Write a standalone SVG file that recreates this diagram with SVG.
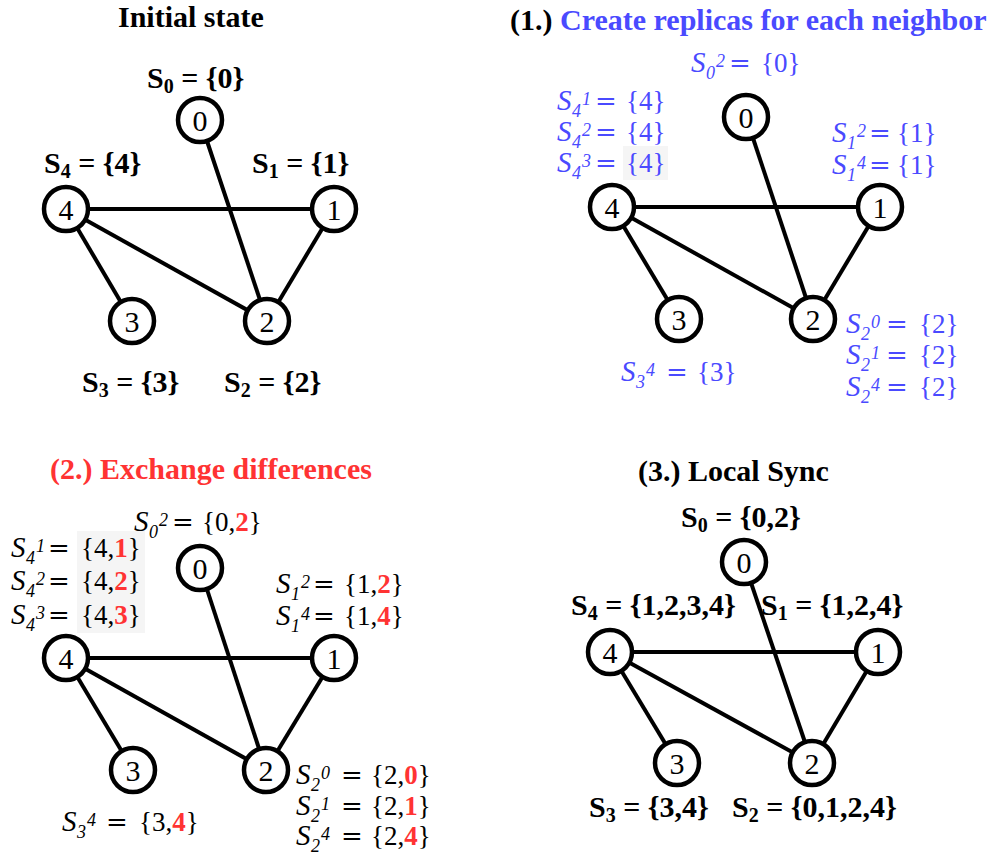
<svg xmlns="http://www.w3.org/2000/svg" width="993" height="855" viewBox="0 0 993 855">
<style>
.t{font-family:"Liberation Serif","Times New Roman",serif;}
.title{font-size:30px;font-weight:bold;}
.lb{font-size:30px;font-weight:bold;}
.sb{font-size:20px;}
.eq{font-family:"DejaVu Serif",serif;font-size:26px;}
.li{font-size:27px;}
.it{font-style:italic;}
.S{font-size:29px;}
.sm{font-size:18px;}
.r{fill:#ff3333;font-weight:bold;}
.blue{fill:#4a4aff;}
.node circle{fill:#fff;stroke:#000;stroke-width:4.5;}
.node text{font-family:"Liberation Serif","Times New Roman",serif;font-size:30px;text-anchor:middle;}
.edges line{stroke:#000;stroke-width:4;}
.hl{fill:#f5f5f5;}
</style>
<rect width="993" height="855" fill="#fff"/>

<!-- Titles -->
<text class="t title" x="118" y="27">Initial state</text>
<text class="t title" x="510" y="30">(1.) <tspan class="blue">Create replicas for each neighbor</tspan></text>
<text class="t title" x="50" y="479" fill="#ff3333">(2.) Exchange differences</text>
<text class="t title" x="638" y="481">(3.) Local Sync</text>

<!-- Panel 1: Initial state -->
<g id="edges-p0" class="edges">
<line x1="200" y1="120" x2="267" y2="321"/>
<line x1="66" y1="209" x2="334" y2="209"/>
<line x1="66" y1="209" x2="267" y2="321"/>
<line x1="66" y1="209" x2="132" y2="321"/>
<line x1="334" y1="209" x2="267" y2="321"/>
</g>
<g id="p0-n0" class="node"><circle cx="200" cy="120" r="22"/><text x="200" y="130.5">0</text></g>
<g id="p0-n1" class="node"><circle cx="334" cy="209" r="22"/><text x="334" y="219.5">1</text></g>
<g id="p0-n2" class="node"><circle cx="267" cy="321" r="22"/><text x="267" y="331.5">2</text></g>
<g id="p0-n3" class="node"><circle cx="132" cy="321" r="22"/><text x="132" y="331.5">3</text></g>
<g id="p0-n4" class="node"><circle cx="66" cy="209" r="22"/><text x="66" y="219.5">4</text></g>
<g id="p0-labels">
<text class="t lb" x="147" y="88">S<tspan class="sb" dy="5">0</tspan><tspan dy="-5"> = {0}</tspan></text>
<text class="t lb" x="44" y="173">S<tspan class="sb" dy="5">4</tspan><tspan dy="-5"> = {4}</tspan></text>
<text class="t lb" x="252" y="173">S<tspan class="sb" dy="5">1</tspan><tspan dy="-5"> = {1}</tspan></text>
<text class="t lb" x="82" y="392">S<tspan class="sb" dy="5">3</tspan><tspan dy="-5"> = {3}</tspan></text>
<text class="t lb" x="224" y="392">S<tspan class="sb" dy="5">2</tspan><tspan dy="-5"> = {2}</tspan></text>
</g>

<!-- Panel 2: Create replicas -->
<rect class="hl" x="623" y="146" width="45" height="34"/>
<g id="edges-p1" class="edges">
<line x1="746" y1="117" x2="813" y2="319"/>
<line x1="612" y1="207" x2="880" y2="207"/>
<line x1="612" y1="207" x2="813" y2="319"/>
<line x1="612" y1="207" x2="679" y2="319"/>
<line x1="880" y1="207" x2="813" y2="319"/>
</g>
<g id="p1-n0" class="node"><circle cx="746" cy="117" r="22"/><text x="746" y="127.5">0</text></g>
<g id="p1-n1" class="node"><circle cx="880" cy="207" r="22"/><text x="880" y="217.5">1</text></g>
<g id="p1-n2" class="node"><circle cx="813" cy="319" r="22"/><text x="813" y="329.5">2</text></g>
<g id="p1-n3" class="node"><circle cx="679" cy="319" r="22"/><text x="679" y="329.5">3</text></g>
<g id="p1-n4" class="node"><circle cx="612" cy="207" r="22"/><text x="612" y="217.5">4</text></g>
<g id="p1-labels" class="blue">
<text class="t li" y="72"><tspan class="it S" x="691">S</tspan><tspan class="it sm" x="706" y="79">0</tspan><tspan class="it sm" x="716" y="67">2</tspan><tspan class="eq" x="729" y="72">=</tspan><tspan x="761" y="72">{0}</tspan></text>
<text class="t li" y="110"><tspan class="it S" x="557">S</tspan><tspan class="it sm" x="572" y="117">4</tspan><tspan class="it sm" x="582" y="105">1</tspan><tspan class="eq" x="595" y="110">=</tspan><tspan x="626" y="110">{4}</tspan></text>
<text class="t li" y="141"><tspan class="it S" x="557">S</tspan><tspan class="it sm" x="572" y="148">4</tspan><tspan class="it sm" x="582" y="136">2</tspan><tspan class="eq" x="595" y="141">=</tspan><tspan x="626" y="141">{4}</tspan></text>
<text class="t li" y="172"><tspan class="it S" x="557">S</tspan><tspan class="it sm" x="572" y="179">4</tspan><tspan class="it sm" x="582" y="167">3</tspan><tspan class="eq" x="595" y="172">=</tspan><tspan x="626" y="172">{4}</tspan></text>
<text class="t li" y="142"><tspan class="it S" x="832">S</tspan><tspan class="it sm" x="847" y="149">1</tspan><tspan class="it sm" x="857" y="137">2</tspan><tspan class="eq" x="869" y="142">=</tspan><tspan x="897" y="142">{1}</tspan></text>
<text class="t li" y="174"><tspan class="it S" x="832">S</tspan><tspan class="it sm" x="847" y="181">1</tspan><tspan class="it sm" x="857" y="169">4</tspan><tspan class="eq" x="869" y="174">=</tspan><tspan x="897" y="174">{1}</tspan></text>
<text class="t li" y="333"><tspan class="it S" x="846">S</tspan><tspan class="it sm" x="861" y="340">2</tspan><tspan class="it sm" x="871" y="328">0</tspan><tspan class="eq" x="886" y="333">=</tspan><tspan x="919" y="333">{2}</tspan></text>
<text class="t li" y="364"><tspan class="it S" x="846">S</tspan><tspan class="it sm" x="861" y="371">2</tspan><tspan class="it sm" x="871" y="359">1</tspan><tspan class="eq" x="886" y="364">=</tspan><tspan x="919" y="364">{2}</tspan></text>
<text class="t li" y="396"><tspan class="it S" x="846">S</tspan><tspan class="it sm" x="861" y="403">2</tspan><tspan class="it sm" x="871" y="391">4</tspan><tspan class="eq" x="886" y="396">=</tspan><tspan x="919" y="396">{2}</tspan></text>
<text class="t li" y="381"><tspan class="it S" x="621">S</tspan><tspan class="it sm" x="636" y="388">3</tspan><tspan class="it sm" x="646" y="376">4</tspan><tspan class="eq" x="666" y="381">=</tspan><tspan x="697" y="381">{3}</tspan></text>
</g>

<!-- Panel 3: Exchange differences -->
<rect class="hl" x="77" y="531" width="68" height="102"/>
<g id="edges-p2" class="edges">
<line x1="200" y1="568" x2="266" y2="770"/>
<line x1="66" y1="658" x2="334" y2="658"/>
<line x1="66" y1="658" x2="266" y2="770"/>
<line x1="66" y1="658" x2="133" y2="770"/>
<line x1="334" y1="658" x2="266" y2="770"/>
</g>
<g id="p2-n0" class="node"><circle cx="200" cy="568" r="22"/><text x="200" y="578.5">0</text></g>
<g id="p2-n1" class="node"><circle cx="334" cy="658" r="22"/><text x="334" y="668.5">1</text></g>
<g id="p2-n2" class="node"><circle cx="266" cy="770" r="22"/><text x="266" y="780.5">2</text></g>
<g id="p2-n3" class="node"><circle cx="133" cy="770" r="22"/><text x="133" y="780.5">3</text></g>
<g id="p2-n4" class="node"><circle cx="66" cy="658" r="22"/><text x="66" y="668.5">4</text></g>
<g id="p2-labels">
<text class="t li" y="531"><tspan class="it S" x="134">S</tspan><tspan class="it sm" x="149" y="538">0</tspan><tspan class="it sm" x="159" y="526">2</tspan><tspan class="eq" x="172" y="531">=</tspan><tspan x="202" y="531">{0,<tspan class="r">2</tspan>}</tspan></text>
<text class="t li" y="557"><tspan class="it S" x="11">S</tspan><tspan class="it sm" x="26" y="564">4</tspan><tspan class="it sm" x="36" y="552">1</tspan><tspan class="eq" x="48" y="557">=</tspan><tspan x="81" y="557">{4,<tspan class="r">1</tspan>}</tspan></text>
<text class="t li" y="590"><tspan class="it S" x="11">S</tspan><tspan class="it sm" x="26" y="597">4</tspan><tspan class="it sm" x="36" y="585">2</tspan><tspan class="eq" x="48" y="590">=</tspan><tspan x="81" y="590">{4,<tspan class="r">2</tspan>}</tspan></text>
<text class="t li" y="624"><tspan class="it S" x="11">S</tspan><tspan class="it sm" x="26" y="631">4</tspan><tspan class="it sm" x="36" y="619">3</tspan><tspan class="eq" x="48" y="624">=</tspan><tspan x="81" y="624">{4,<tspan class="r">3</tspan>}</tspan></text>
<text class="t li" y="593"><tspan class="it S" x="276">S</tspan><tspan class="it sm" x="291" y="600">1</tspan><tspan class="it sm" x="301" y="588">2</tspan><tspan class="eq" x="313" y="593">=</tspan><tspan x="344" y="593">{1,<tspan class="r">2</tspan>}</tspan></text>
<text class="t li" y="625"><tspan class="it S" x="276">S</tspan><tspan class="it sm" x="291" y="632">1</tspan><tspan class="it sm" x="301" y="620">4</tspan><tspan class="eq" x="313" y="625">=</tspan><tspan x="344" y="625">{1,<tspan class="r">4</tspan>}</tspan></text>
<text class="t li" y="784"><tspan class="it S" x="296">S</tspan><tspan class="it sm" x="311" y="791">2</tspan><tspan class="it sm" x="321" y="779">0</tspan><tspan class="eq" x="341" y="784">=</tspan><tspan x="371" y="784">{2,<tspan class="r">0</tspan>}</tspan></text>
<text class="t li" y="815"><tspan class="it S" x="296">S</tspan><tspan class="it sm" x="311" y="822">2</tspan><tspan class="it sm" x="321" y="810">1</tspan><tspan class="eq" x="341" y="815">=</tspan><tspan x="371" y="815">{2,<tspan class="r">1</tspan>}</tspan></text>
<text class="t li" y="845"><tspan class="it S" x="296">S</tspan><tspan class="it sm" x="311" y="852">2</tspan><tspan class="it sm" x="321" y="840">4</tspan><tspan class="eq" x="341" y="845">=</tspan><tspan x="371" y="845">{2,<tspan class="r">4</tspan>}</tspan></text>
<text class="t li" y="831"><tspan class="it S" x="62">S</tspan><tspan class="it sm" x="77" y="838">3</tspan><tspan class="it sm" x="87" y="826">4</tspan><tspan class="eq" x="106" y="831">=</tspan><tspan x="139" y="831">{3,<tspan class="r">4</tspan>}</tspan></text>
</g>

<!-- Panel 4: Local Sync -->
<g id="edges-p3" class="edges">
<line x1="744" y1="562" x2="812" y2="763"/>
<line x1="610" y1="652" x2="878" y2="652"/>
<line x1="610" y1="652" x2="812" y2="763"/>
<line x1="610" y1="652" x2="677" y2="763"/>
<line x1="878" y1="652" x2="812" y2="763"/>
</g>
<g id="p3-n0" class="node"><circle cx="744" cy="562" r="22"/><text x="744" y="572.5">0</text></g>
<g id="p3-n1" class="node"><circle cx="878" cy="652" r="22"/><text x="878" y="662.5">1</text></g>
<g id="p3-n2" class="node"><circle cx="812" cy="763" r="22"/><text x="812" y="773.5">2</text></g>
<g id="p3-n3" class="node"><circle cx="677" cy="763" r="22"/><text x="677" y="773.5">3</text></g>
<g id="p3-n4" class="node"><circle cx="610" cy="652" r="22"/><text x="610" y="662.5">4</text></g>
<g id="p3-labels">
<text class="t lb" x="681" y="527">S<tspan class="sb" dy="5">0</tspan><tspan dy="-5"> = {0,2}</tspan></text>
<text class="t lb" x="571" y="615">S<tspan class="sb" dy="5">4</tspan><tspan dy="-5"> = {1,2,3,4}</tspan></text>
<text class="t lb" x="761" y="615">S<tspan class="sb" dy="5">1</tspan><tspan dy="-5"> = {1,2,4}</tspan></text>
<text class="t lb" x="589" y="817">S<tspan class="sb" dy="5">3</tspan><tspan dy="-5"> = {3,4}</tspan></text>
<text class="t lb" x="732" y="817">S<tspan class="sb" dy="5">2</tspan><tspan dy="-5"> = {0,1,2,4}</tspan></text>
</g>
</svg>
